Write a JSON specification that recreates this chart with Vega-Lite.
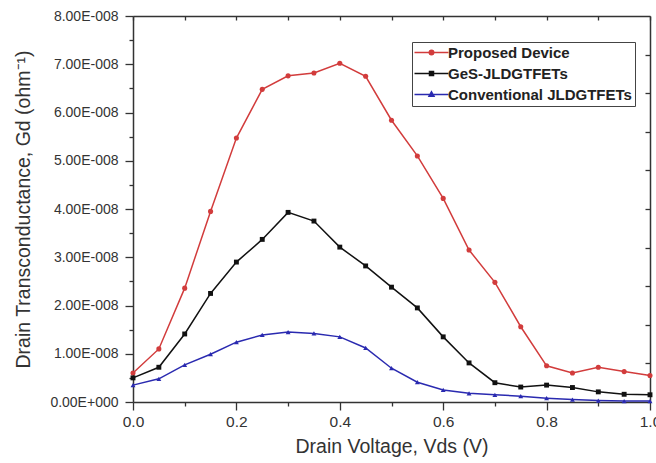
{
  "$schema": "https://vega.github.io/schema/vega-lite/v6.json",
  "width": 517,
  "height": 386,
  "autosize": {"type": "none"},
  "padding": {"left": 133, "top": 16, "right": 6, "bottom": 61},
  "config": {
    "view": {"stroke": null},
    "font": "Liberation Sans",
    "axis": {
      "domainColor": "#333",
      "domainWidth": 1.5,
      "tickColor": "#333",
      "tickWidth": 1.3,
      "labelColor": "#333",
      "labelFont": "Liberation Sans",
      "titleFont": "Liberation Sans",
      "titleFontSize": 19.5,
      "titleFontWeight": "normal",
      "titleColor": "#333",
      "grid": false,
      "labelFlush": false,
      "labelOverlap": false
    }
  },
  "data": {
    "values": [
      {"v": 0.0, "gd": 6.0e-9, "series": "Proposed Device"},
      {"v": 0.05, "gd": 1.1e-8, "series": "Proposed Device"},
      {"v": 0.1, "gd": 2.36e-8, "series": "Proposed Device"},
      {"v": 0.15, "gd": 3.95e-8, "series": "Proposed Device"},
      {"v": 0.2, "gd": 5.47e-8, "series": "Proposed Device"},
      {"v": 0.25, "gd": 6.48e-8, "series": "Proposed Device"},
      {"v": 0.3, "gd": 6.76e-8, "series": "Proposed Device"},
      {"v": 0.35, "gd": 6.82e-8, "series": "Proposed Device"},
      {"v": 0.4, "gd": 7.02e-8, "series": "Proposed Device"},
      {"v": 0.45, "gd": 6.75e-8, "series": "Proposed Device"},
      {"v": 0.5, "gd": 5.84e-8, "series": "Proposed Device"},
      {"v": 0.55, "gd": 5.1e-8, "series": "Proposed Device"},
      {"v": 0.6, "gd": 4.22e-8, "series": "Proposed Device"},
      {"v": 0.65, "gd": 3.15e-8, "series": "Proposed Device"},
      {"v": 0.7, "gd": 2.48e-8, "series": "Proposed Device"},
      {"v": 0.75, "gd": 1.56e-8, "series": "Proposed Device"},
      {"v": 0.8, "gd": 7.5e-9, "series": "Proposed Device"},
      {"v": 0.85, "gd": 6.0e-9, "series": "Proposed Device"},
      {"v": 0.9, "gd": 7.2e-9, "series": "Proposed Device"},
      {"v": 0.95, "gd": 6.3e-9, "series": "Proposed Device"},
      {"v": 1.0, "gd": 5.5e-9, "series": "Proposed Device"},
      {"v": 0.0, "gd": 5.0e-9, "series": "GeS-JLDGTFETs"},
      {"v": 0.05, "gd": 7.2e-9, "series": "GeS-JLDGTFETs"},
      {"v": 0.1, "gd": 1.41e-8, "series": "GeS-JLDGTFETs"},
      {"v": 0.15, "gd": 2.25e-8, "series": "GeS-JLDGTFETs"},
      {"v": 0.2, "gd": 2.9e-8, "series": "GeS-JLDGTFETs"},
      {"v": 0.25, "gd": 3.37e-8, "series": "GeS-JLDGTFETs"},
      {"v": 0.3, "gd": 3.93e-8, "series": "GeS-JLDGTFETs"},
      {"v": 0.35, "gd": 3.75e-8, "series": "GeS-JLDGTFETs"},
      {"v": 0.4, "gd": 3.21e-8, "series": "GeS-JLDGTFETs"},
      {"v": 0.45, "gd": 2.82e-8, "series": "GeS-JLDGTFETs"},
      {"v": 0.5, "gd": 2.38e-8, "series": "GeS-JLDGTFETs"},
      {"v": 0.55, "gd": 1.95e-8, "series": "GeS-JLDGTFETs"},
      {"v": 0.6, "gd": 1.35e-8, "series": "GeS-JLDGTFETs"},
      {"v": 0.65, "gd": 8.1e-9, "series": "GeS-JLDGTFETs"},
      {"v": 0.7, "gd": 4.0e-9, "series": "GeS-JLDGTFETs"},
      {"v": 0.75, "gd": 3.1e-9, "series": "GeS-JLDGTFETs"},
      {"v": 0.8, "gd": 3.5e-9, "series": "GeS-JLDGTFETs"},
      {"v": 0.85, "gd": 3.0e-9, "series": "GeS-JLDGTFETs"},
      {"v": 0.9, "gd": 2.1e-9, "series": "GeS-JLDGTFETs"},
      {"v": 0.95, "gd": 1.6e-9, "series": "GeS-JLDGTFETs"},
      {"v": 1.0, "gd": 1.5e-9, "series": "GeS-JLDGTFETs"},
      {"v": 0.0, "gd": 3.5e-9, "series": "Conventional JLDGTFETs"},
      {"v": 0.05, "gd": 4.8e-9, "series": "Conventional JLDGTFETs"},
      {"v": 0.1, "gd": 7.7e-9, "series": "Conventional JLDGTFETs"},
      {"v": 0.15, "gd": 9.9e-9, "series": "Conventional JLDGTFETs"},
      {"v": 0.2, "gd": 1.24e-8, "series": "Conventional JLDGTFETs"},
      {"v": 0.25, "gd": 1.39e-8, "series": "Conventional JLDGTFETs"},
      {"v": 0.3, "gd": 1.45e-8, "series": "Conventional JLDGTFETs"},
      {"v": 0.35, "gd": 1.42e-8, "series": "Conventional JLDGTFETs"},
      {"v": 0.4, "gd": 1.35e-8, "series": "Conventional JLDGTFETs"},
      {"v": 0.45, "gd": 1.12e-8, "series": "Conventional JLDGTFETs"},
      {"v": 0.5, "gd": 7.0e-9, "series": "Conventional JLDGTFETs"},
      {"v": 0.55, "gd": 4.1e-9, "series": "Conventional JLDGTFETs"},
      {"v": 0.6, "gd": 2.5e-9, "series": "Conventional JLDGTFETs"},
      {"v": 0.65, "gd": 1.8e-9, "series": "Conventional JLDGTFETs"},
      {"v": 0.7, "gd": 1.5e-9, "series": "Conventional JLDGTFETs"},
      {"v": 0.75, "gd": 1.2e-9, "series": "Conventional JLDGTFETs"},
      {"v": 0.8, "gd": 8.0e-10, "series": "Conventional JLDGTFETs"},
      {"v": 0.85, "gd": 5.0e-10, "series": "Conventional JLDGTFETs"},
      {"v": 0.9, "gd": 3.0e-10, "series": "Conventional JLDGTFETs"},
      {"v": 0.95, "gd": 2.0e-10, "series": "Conventional JLDGTFETs"},
      {"v": 1.0, "gd": 2.0e-10, "series": "Conventional JLDGTFETs"}
    ]
  },
  "resolve": {"axis": {"x": "independent", "y": "independent"}},
  "layer": [
    {
      "mark": {"type": "line", "strokeWidth": 1.5},
      "encoding": {
        "x": {
          "field": "v", "type": "quantitative",
          "scale": {"domain": [0, 1], "nice": false, "zero": false},
          "axis": {
            "title": "Drain Voltage, Vds (V)",
            "values": [0, 0.1, 0.2, 0.3, 0.4, 0.5, 0.6, 0.7, 0.8, 0.9, 1.0],
            "labelExpr": "round(datum.value*10) % 2 === 1 ? '' : format(datum.value, '.1f')",
            "tickSize": {"condition": {"test": "round(datum.value*10) % 2 === 1", "value": 4}, "value": 8},
            "labelFontSize": 15.5,
            "labelPadding": 4,
            "titlePadding": 8
          }
        },
        "y": {
          "field": "gd", "type": "quantitative",
          "scale": {"domain": [0, 8e-8], "nice": false},
          "axis": {
            "title": "Drain Transconductance, Gd (ohm⁻¹)",
            "values": [0, 5e-9, 1e-8, 1.5e-8, 2e-8, 2.5e-8, 3e-8, 3.5e-8, 4e-8, 4.5e-8, 5e-8, 5.5e-8, 6e-8, 6.5e-8, 7e-8, 7.5e-8, 8e-8],
            "labelExpr": "round(datum.value*2e8) % 2 === 1 ? '' : (datum.value === 0 ? '0.00E+000' : format(datum.value*1e8, '.2f') + 'E-008')",
            "tickSize": {"condition": {"test": "round(datum.value*2e8) % 2 === 1", "value": 4}, "value": 8},
            "labelFontSize": 14,
            "labelPadding": 7,
            "titlePadding": 16
          }
        },
        "color": {
          "field": "series", "type": "nominal",
          "scale": {
            "domain": ["Proposed Device", "GeS-JLDGTFETs", "Conventional JLDGTFETs"],
            "range": ["#d23c3c", "#111111", "#2a2ab0"]
          },
          "legend": {
            "title": null,
            "orient": "none",
            "legendX": 279,
            "legendY": 26,
            "padding": 3,
            "strokeColor": "#444",
            "fillColor": "white",
            "symbolSize": 100,
            "symbolOffset": 9,
            "labelOffset": 9,
            "rowPadding": 5,
            "labelLimit": 400,
            "labelFont": "Liberation Sans",
            "labelFontSize": 15,
            "labelFontWeight": "bold",
            "labelColor": "#222",
            "encode": {
              "symbols": {
                "update": {
                  "shape": {"signal": "datum.value === 'Proposed Device' ? 'M-3.4,0H3.4M-0.45,0A0.45,0.45 0 1,0 0.45,0A0.45,0.45 0 1,0 -0.45,0Z' : (datum.value === 'GeS-JLDGTFETs' ? 'M-3.4,0H3.4M-0.4,-0.4H0.4V0.4H-0.4Z' : 'M-3.4,0H3.4M0,-0.55L0.5,0.35H-0.5Z')"},
                  "fill": {"scale": "color", "field": "value"},
                  "stroke": {"scale": "color", "field": "value"},
                  "strokeWidth": {"value": 1.5},
                  "opacity": {"value": 1}
                }
              }
            }
          }
        }
      }
    },
    {
      "transform": [{"filter": "datum.series === 'Proposed Device'"}],
      "mark": {"type": "point", "filled": true, "opacity": 1, "shape": "circle", "size": 26},
      "encoding": {
        "x": {
          "field": "v", "type": "quantitative",
          "axis": {
            "orient": "top", "title": null, "labels": false,
            "values": [0, 0.1, 0.2, 0.3, 0.4, 0.5, 0.6, 0.7, 0.8, 0.9, 1.0],
            "tickSize": -4
          }
        },
        "y": {
          "field": "gd", "type": "quantitative",
          "axis": {
            "orient": "right", "title": null, "labels": false,
            "values": [8e-9, 1.6e-8, 2.4e-8, 3.2e-8, 4.0e-8, 4.8e-8, 5.6e-8, 6.4e-8, 7.2e-8],
            "tickSize": -5
          }
        },
        "color": {"field": "series", "type": "nominal", "legend": null}
      }
    },
    {
      "transform": [{"filter": "datum.series === 'GeS-JLDGTFETs'"}],
      "mark": {"type": "point", "filled": true, "opacity": 1, "shape": "square", "size": 24},
      "encoding": {
        "x": {"field": "v", "type": "quantitative", "axis": null},
        "y": {"field": "gd", "type": "quantitative", "axis": null},
        "color": {"field": "series", "type": "nominal", "legend": null}
      }
    },
    {
      "transform": [{"filter": "datum.series === 'Conventional JLDGTFETs'"}],
      "mark": {"type": "point", "filled": true, "opacity": 1, "shape": "triangle-up", "size": 24},
      "encoding": {
        "x": {"field": "v", "type": "quantitative", "axis": null},
        "y": {"field": "gd", "type": "quantitative", "axis": null},
        "color": {"field": "series", "type": "nominal", "legend": null}
      }
    }
  ]
}
